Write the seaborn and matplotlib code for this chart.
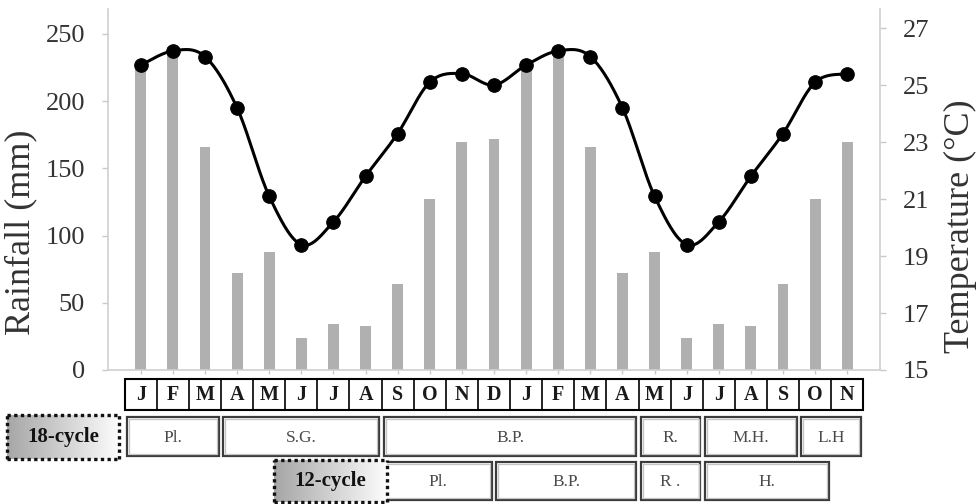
import numpy as np
import pandas as pd
import matplotlib
matplotlib.use("Agg")
import matplotlib.pyplot as plt
import seaborn as sns
from matplotlib.patches import Rectangle
from matplotlib.transforms import blended_transform_factory
from matplotlib.colors import LinearSegmentedColormap

# ---- data -------------------------------------------------------------
months = ["J", "F", "M", "A", "M", "J", "J", "A", "S", "O", "N", "D",
          "J", "F", "M", "A", "M", "J", "J", "A", "S", "O", "N"]
rainfall_mm = [228, 240, 166, 72, 88, 24, 34, 33, 64, 127, 170, 172,
               228, 240, 166, 72, 88, 24, 34, 33, 64, 127, 170]
temperature_c = [25.7, 26.2, 26.0, 24.2, 21.1, 19.4, 20.2, 21.8, 23.3, 25.1, 25.4, 25.0,
                 25.7, 26.2, 26.0, 24.2, 21.1, 19.4, 20.2, 21.8, 23.3, 25.1, 25.4]
rain_ticks = [0, 50, 100, 150, 200, 250]
temp_ticks = [15, 17, 19, 21, 23, 25, 27]

# crop phases (month index where each phase starts / ends)
cycle18_phases = ["Pl.", "S.G.", "B.P.", "R.", "M.H.", "L.H"]
cycle18_start = [0, 3, 8, 16, 18, 21]
cycle18_end = [3, 8, 16, 18, 21, 23]
cycle12_phases = ["Pl.", "B.P.", "R .", "H."]
cycle12_start = [8, 11.5, 16, 18]
cycle12_end = [11.5, 16, 18, 22]

# ---- style ------------------------------------------------------------
sns.set_style("white")
plt.rcParams["font.family"] = ["Liberation Serif", "DejaVu Serif"]

W, H = 978, 504
fig = plt.figure(figsize=(W / 100, H / 100), dpi=100)


def fy(py):
    return 1 - py / H


ax = fig.add_axes([108 / W, fy(370), 772 / W, 361 / H])

df = pd.DataFrame({"pos": np.arange(len(months)), "rain": rainfall_mm,
                   "temp": temperature_c})

sns.barplot(data=df, x="pos", y="rain", native_scale=True, width=0.34,
            color="#b0b0b0", saturation=1, edgecolor="none", ax=ax)

ax2 = ax.twinx()


def catmull_rom(x, y, n=30):
    x = np.asarray(x, float)
    y = np.asarray(y, float)
    px = np.concatenate([[x[0]], x, [x[-1]]])
    py = np.concatenate([[y[0]], y, [y[-1]]])
    t = np.linspace(0, 1, n, endpoint=False)
    xs, ys = [], []
    for i in range(1, len(px) - 2):
        for arr, out in ((px, xs), (py, ys)):
            p0, p1, p2, p3 = arr[i - 1], arr[i], arr[i + 1], arr[i + 2]
            out.extend(0.5 * (2 * p1 + (-p0 + p2) * t
                              + (2 * p0 - 5 * p1 + 4 * p2 - p3) * t ** 2
                              + (-p0 + 3 * p1 - 3 * p2 + p3) * t ** 3))
    xs.append(x[-1])
    ys.append(y[-1])
    return np.array(xs), np.array(ys)


sx, sy = catmull_rom(df["pos"], df["temp"])
sns.lineplot(x=sx, y=sy, sort=False, estimator=None, color="black",
             linewidth=2.2, ax=ax2)
sns.scatterplot(data=df, x="pos", y="temp", s=95, color="black",
                edgecolor="black", zorder=5, ax=ax2)

# ---- axes -------------------------------------------------------------
ax.set_ylim(0, 268.6)
ax.set_yticks(rain_ticks)
ax2.set_ylim(15, 27.67)
ax2.set_yticks(temp_ticks)
ax.set_xticks(df["pos"])
ax.set_xticklabels([])
ax.set_xlabel("")
ax2.set_xlabel("")

spine_c = "#d0d0d0"
for s in ("top", "right"):
    ax.spines[s].set_visible(False)
for s in ("top", "left", "bottom"):
    ax2.spines[s].set_visible(False)
for sp in (ax.spines["left"], ax.spines["bottom"], ax2.spines["right"]):
    sp.set_color(spine_c)
    sp.set_linewidth(1.2)

ax.tick_params(axis="y", direction="out", length=4.5, width=1, color="#c8c8c8",
               pad=12, labelsize=19, labelcolor="#333333", left=True)
ax.tick_params(axis="x", direction="out", length=3, width=1, color="#c8c8c8",
               bottom=True)
ax2.tick_params(axis="y", direction="out", length=4.5, width=1, color="#c8c8c8",
                pad=12, labelsize=19, labelcolor="#333333", right=True)

ax.set_ylabel("Rainfall (mm)", fontsize=26, color="#333333")
ax.yaxis.label.set_va("center")
ax.yaxis.set_label_coords(-0.1127, 0.382)
ax2.set_ylabel("Temperature (°C)", fontsize=26, color="#333333")
ax2.yaxis.label.set_va("center")
ax2.yaxis.set_label_coords(1.1049, 0.399)

# ---- month strip ------------------------------------------------------
trans = blended_transform_factory(ax.transData, fig.transFigure)
n = len(months)
m_top, m_bot = fy(379), fy(410)
ax.add_patch(Rectangle((-0.5, m_bot), n, m_top - m_bot, transform=trans,
                       fill=False, ec="black", lw=1.5, clip_on=False))
for i in range(1, n):
    ax.plot([i - 0.5, i - 0.5], [m_bot, m_top], transform=trans,
            color="black", lw=1.2, clip_on=False)
for i, m in enumerate(months):
    ax.text(i, (m_top + m_bot) / 2, m, transform=trans, ha="center",
            va="center", fontsize=14.5, fontweight="bold", color="#1a1a1a")


def phase_box(x0, x1, y_top, y_bot, label):
    g = 0.07
    ax.add_patch(Rectangle((x0 - 0.5 + g, y_bot), x1 - x0 - 2 * g, y_top - y_bot,
                           transform=trans, fill=False, ec="#3c3c3c", lw=1.6,
                           clip_on=False))
    ix, iy = 0.06, 2.2 / H
    ax.add_patch(Rectangle((x0 - 0.5 + g + ix, y_bot + iy),
                           x1 - x0 - 2 * g - 2 * ix, y_top - y_bot - 2 * iy,
                           transform=trans, fill=False, ec="#c4c4c4", lw=0.9,
                           clip_on=False))
    ax.text((x0 + x1) / 2 - 0.5, (y_top + y_bot) / 2 - 1 / H, label,
            transform=trans, ha="center", va="center", fontsize=12.5,
            color="#4a4a4a")


for lab, a, b in zip(cycle18_phases, cycle18_start, cycle18_end):
    phase_box(a, b, fy(417), fy(456), lab)
for lab, a, b in zip(cycle12_phases, cycle12_start, cycle12_end):
    phase_box(a, b, fy(462), fy(500), lab)

tag_cmap = LinearSegmentedColormap.from_list("tag", ["#a6a6a6", "#fcfcfc"])


def cycle_tag(px0, py0, px1, py1, text):
    tax = fig.add_axes([px0 / W, fy(py1), (px1 - px0) / W, (py1 - py0) / H])
    tax.imshow(np.linspace(0, 1, 256)[None, :], aspect="auto", cmap=tag_cmap,
               extent=[0, 1, 0, 1])
    tax.set_xticks([])
    tax.set_yticks([])
    for sp in tax.spines.values():
        sp.set_visible(True)
        sp.set_linestyle((0, (1, 1)))
        sp.set_capstyle("butt")
        sp.set_linewidth(2.4)
        sp.set_color("#111111")
    tax.text(0.5, 0.5, text, transform=tax.transAxes, ha="center",
             va="center", fontsize=15, fontweight="bold", color="#111111")


cycle_tag(7, 415, 119, 459, "18-cycle")
cycle_tag(274, 460, 387, 502, "12-cycle")

ax.set_xlim(-1.02, 23.02)

fig.savefig("out.png", dpi=100)
